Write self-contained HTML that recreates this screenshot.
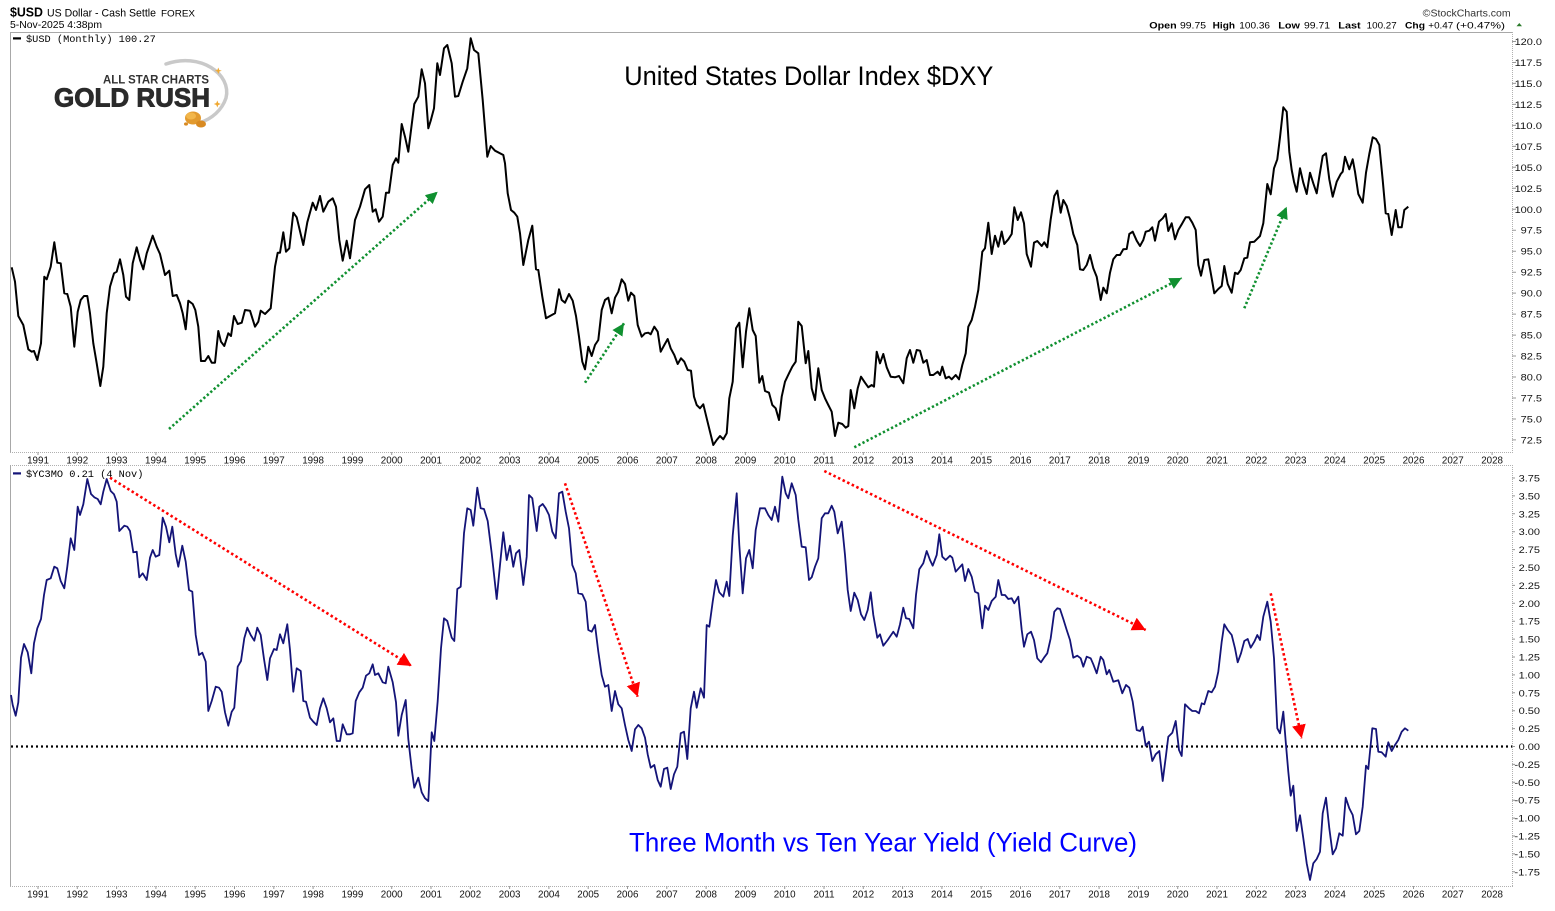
<!DOCTYPE html>
<html>
<head>
<meta charset="utf-8">
<style>
html,body{margin:0;padding:0;background:#fff;}
svg{display:block;}
text{font-family:"Liberation Sans",Arial,sans-serif;}
.mono{font-family:"Liberation Mono","DejaVu Sans Mono",monospace;}
.ax{font-size:9.5px;fill:#111;}
.yr{font-size:9.8px;fill:#111;}
</style>
</head>
<body>
<svg width="1555" height="911" viewBox="0 0 1555 911" xmlns="http://www.w3.org/2000/svg">
<defs>
<marker id="ag" markerUnits="userSpaceOnUse" markerWidth="14" markerHeight="14" refX="12" refY="6" orient="auto">
<path d="M0,0 L12,6 L0,12 z" fill="#109030"/>
</marker>
<marker id="ar" markerUnits="userSpaceOnUse" markerWidth="16" markerHeight="16" refX="13.5" refY="7" orient="auto">
<path d="M0,0 L13.5,7 L0,14 z" fill="#ff0000"/>
</marker>
</defs>
<rect x="0" y="0" width="1555" height="911" fill="#fff"/>

<!-- Header -->
<text x="10" y="16.7" font-size="13" font-weight="bold" textLength="33" lengthAdjust="spacingAndGlyphs" fill="#000">$USD</text>
<text x="47" y="16.5" font-size="10.7" textLength="109" lengthAdjust="spacingAndGlyphs" fill="#000">US Dollar - Cash Settle</text>
<text x="161" y="16.5" font-size="9.5" textLength="34" lengthAdjust="spacingAndGlyphs" fill="#000">FOREX</text>
<text x="10" y="28" font-size="10.5" textLength="92" lengthAdjust="spacingAndGlyphs" fill="#000">5-Nov-2025 4:38pm</text>
<text x="1422.7" y="16.5" font-size="10" textLength="88" lengthAdjust="spacingAndGlyphs" fill="#333">©StockCharts.com</text>

<g font-size="9.5" fill="#000">
<text x="1149.3" y="28.3" font-weight="bold" textLength="27.4" lengthAdjust="spacingAndGlyphs">Open</text>
<text x="1180" y="28.3" textLength="26" lengthAdjust="spacingAndGlyphs">99.75</text>
<text x="1212.7" y="28.3" font-weight="bold" textLength="22.3" lengthAdjust="spacingAndGlyphs">High</text>
<text x="1239.3" y="28.3" textLength="30.7" lengthAdjust="spacingAndGlyphs">100.36</text>
<text x="1278.3" y="28.3" font-weight="bold" textLength="21.7" lengthAdjust="spacingAndGlyphs">Low</text>
<text x="1304" y="28.3" textLength="26" lengthAdjust="spacingAndGlyphs">99.71</text>
<text x="1338.3" y="28.3" font-weight="bold" textLength="22.4" lengthAdjust="spacingAndGlyphs">Last</text>
<text x="1366.7" y="28.3" textLength="30" lengthAdjust="spacingAndGlyphs">100.27</text>
<text x="1405" y="28.3" font-weight="bold" textLength="20" lengthAdjust="spacingAndGlyphs">Chg</text>
<text x="1428.3" y="28.3" textLength="25" lengthAdjust="spacingAndGlyphs">+0.47</text>
<text x="1456" y="28.3" textLength="49" lengthAdjust="spacingAndGlyphs">(+0.47%)</text>
</g>
<path d="M1516.5,26.3 L1519.3,23 L1522,26.3 z" fill="#2a7a2a"/>

<!-- Top panel frame -->
<line x1="10" y1="32.5" x2="1512.5" y2="32.5" stroke="#a8a8a8" stroke-width="1"/>
<line x1="10.5" y1="32" x2="10.5" y2="452" stroke="#a8a8a8" stroke-width="1"/>
<line x1="1512.5" y1="32" x2="1512.5" y2="452" stroke="#b0b0b0" stroke-width="1" stroke-dasharray="1 1"/>
<line x1="10" y1="452.5" x2="1513" y2="452.5" stroke="#b0b0b0" stroke-width="1" stroke-dasharray="1 1"/>

<!-- Bottom panel frame -->
<line x1="10" y1="465.5" x2="1513" y2="465.5" stroke="#b0b0b0" stroke-width="1" stroke-dasharray="1 1"/>
<line x1="10.5" y1="465" x2="10.5" y2="887" stroke="#a8a8a8" stroke-width="1"/>
<line x1="1512.5" y1="465" x2="1512.5" y2="887" stroke="#b0b0b0" stroke-width="1" stroke-dasharray="1 1"/>
<line x1="10" y1="886.5" x2="1513" y2="886.5" stroke="#b0b0b0" stroke-width="1" stroke-dasharray="1 1"/>

<!-- year ticks -->
<g stroke="#999" stroke-width="1">
<path d="M38,452 v3 M77.3,452 v3 M116.6,452 v3 M155.9,452 v3 M195.2,452 v3 M234.5,452 v3 M273.8,452 v3 M313.1,452 v3 M352.4,452 v3 M391.7,452 v3 M431,452 v3 M470.3,452 v3 M509.6,452 v3 M548.9,452 v3 M588.2,452 v3 M627.5,452 v3 M666.8,452 v3 M706.1,452 v3 M745.4,452 v3 M784.7,452 v3 M824,452 v3 M863.3,452 v3 M902.6,452 v3 M941.9,452 v3 M981.2,452 v3 M1020.5,452 v3 M1059.8,452 v3 M1099.1,452 v3 M1138.4,452 v3 M1177.7,452 v3 M1217,452 v3 M1256.3,452 v3 M1295.6,452 v3 M1334.9,452 v3 M1374.2,452 v3 M1413.5,452 v3 M1452.8,452 v3 M1492.1,452 v3"/>
<path d="M38,886 v3 M77.3,886 v3 M116.6,886 v3 M155.9,886 v3 M195.2,886 v3 M234.5,886 v3 M273.8,886 v3 M313.1,886 v3 M352.4,886 v3 M391.7,886 v3 M431,886 v3 M470.3,886 v3 M509.6,886 v3 M548.9,886 v3 M588.2,886 v3 M627.5,886 v3 M666.8,886 v3 M706.1,886 v3 M745.4,886 v3 M784.7,886 v3 M824,886 v3 M863.3,886 v3 M902.6,886 v3 M941.9,886 v3 M981.2,886 v3 M1020.5,886 v3 M1059.8,886 v3 M1099.1,886 v3 M1138.4,886 v3 M1177.7,886 v3 M1217,886 v3 M1256.3,886 v3 M1295.6,886 v3 M1334.9,886 v3 M1374.2,886 v3 M1413.5,886 v3 M1452.8,886 v3 M1492.1,886 v3"/>
</g>

<!-- right axis ticks -->
<g stroke="#999" stroke-width="1">
<path d="M1512,41.5h4 M1512,62.5h4 M1512,83.4h4 M1512,104.4h4 M1512,125.4h4 M1512,146.4h4 M1512,167.3h4 M1512,188.3h4 M1512,209.3h4 M1512,230.2h4 M1512,251.2h4 M1512,272.2h4 M1512,293.1h4 M1512,314.1h4 M1512,335.1h4 M1512,356h4 M1512,377h4 M1512,398h4 M1512,419h4 M1512,439.9h4"/>
<path d="M1512,478h3 M1512,495.9h3 M1512,513.8h3 M1512,531.7h3 M1512,549.6h3 M1512,567.5h3 M1512,585.4h3 M1512,603.3h3 M1512,621.2h3 M1512,639.1h3 M1512,657h3 M1512,674.9h3 M1512,692.8h3 M1512,710.7h3 M1512,728.6h3 M1512,746.5h3 M1512,764.4h3 M1512,782.3h3 M1512,800.2h3 M1512,818.1h3 M1512,836h3 M1512,853.9h3 M1512,871.8h3"/>
</g>

<!-- Top right axis labels -->
<g class="ax" text-anchor="end">
<text x="1542" y="45" textLength="27.4" lengthAdjust="spacingAndGlyphs">120.0</text>
<text x="1542" y="66" textLength="27.4" lengthAdjust="spacingAndGlyphs">117.5</text>
<text x="1542" y="86.9" textLength="27.4" lengthAdjust="spacingAndGlyphs">115.0</text>
<text x="1542" y="107.9" textLength="27.4" lengthAdjust="spacingAndGlyphs">112.5</text>
<text x="1542" y="128.9" textLength="27.4" lengthAdjust="spacingAndGlyphs">110.0</text>
<text x="1542" y="149.9" textLength="27.4" lengthAdjust="spacingAndGlyphs">107.5</text>
<text x="1542" y="170.8" textLength="27.4" lengthAdjust="spacingAndGlyphs">105.0</text>
<text x="1542" y="191.8" textLength="27.4" lengthAdjust="spacingAndGlyphs">102.5</text>
<text x="1542" y="212.8" textLength="27.4" lengthAdjust="spacingAndGlyphs">100.0</text>
<text x="1542" y="233.7" textLength="21.4" lengthAdjust="spacingAndGlyphs">97.5</text>
<text x="1542" y="254.7" textLength="21.4" lengthAdjust="spacingAndGlyphs">95.0</text>
<text x="1542" y="275.7" textLength="21.4" lengthAdjust="spacingAndGlyphs">92.5</text>
<text x="1542" y="296.6" textLength="21.4" lengthAdjust="spacingAndGlyphs">90.0</text>
<text x="1542" y="317.6" textLength="21.4" lengthAdjust="spacingAndGlyphs">87.5</text>
<text x="1542" y="338.6" textLength="21.4" lengthAdjust="spacingAndGlyphs">85.0</text>
<text x="1542" y="359.5" textLength="21.4" lengthAdjust="spacingAndGlyphs">82.5</text>
<text x="1542" y="380.5" textLength="21.4" lengthAdjust="spacingAndGlyphs">80.0</text>
<text x="1542" y="401.5" textLength="21.4" lengthAdjust="spacingAndGlyphs">77.5</text>
<text x="1542" y="422.5" textLength="21.4" lengthAdjust="spacingAndGlyphs">75.0</text>
<text x="1542" y="443.4" textLength="21.4" lengthAdjust="spacingAndGlyphs">72.5</text>
</g>

<!-- Bottom right axis labels -->
<g class="ax" text-anchor="end">
<text x="1540" y="481.5" textLength="21.4" lengthAdjust="spacingAndGlyphs">3.75</text>
<text x="1540" y="499.4" textLength="21.4" lengthAdjust="spacingAndGlyphs">3.50</text>
<text x="1540" y="517.3" textLength="21.4" lengthAdjust="spacingAndGlyphs">3.25</text>
<text x="1540" y="535.2" textLength="21.4" lengthAdjust="spacingAndGlyphs">3.00</text>
<text x="1540" y="553.1" textLength="21.4" lengthAdjust="spacingAndGlyphs">2.75</text>
<text x="1540" y="571" textLength="21.4" lengthAdjust="spacingAndGlyphs">2.50</text>
<text x="1540" y="588.9" textLength="21.4" lengthAdjust="spacingAndGlyphs">2.25</text>
<text x="1540" y="606.8" textLength="21.4" lengthAdjust="spacingAndGlyphs">2.00</text>
<text x="1540" y="624.7" textLength="21.4" lengthAdjust="spacingAndGlyphs">1.75</text>
<text x="1540" y="642.6" textLength="21.4" lengthAdjust="spacingAndGlyphs">1.50</text>
<text x="1540" y="660.5" textLength="21.4" lengthAdjust="spacingAndGlyphs">1.25</text>
<text x="1540" y="678.4" textLength="21.4" lengthAdjust="spacingAndGlyphs">1.00</text>
<text x="1540" y="696.3" textLength="21.4" lengthAdjust="spacingAndGlyphs">0.75</text>
<text x="1540" y="714.2" textLength="21.4" lengthAdjust="spacingAndGlyphs">0.50</text>
<text x="1540" y="732.1" textLength="21.4" lengthAdjust="spacingAndGlyphs">0.25</text>
<text x="1540" y="750" textLength="21.4" lengthAdjust="spacingAndGlyphs">0.00</text>
<text x="1540" y="767.9" textLength="25.6" lengthAdjust="spacingAndGlyphs">-0.25</text>
<text x="1540" y="785.8" textLength="25.6" lengthAdjust="spacingAndGlyphs">-0.50</text>
<text x="1540" y="803.7" textLength="25.6" lengthAdjust="spacingAndGlyphs">-0.75</text>
<text x="1540" y="821.6" textLength="25.6" lengthAdjust="spacingAndGlyphs">-1.00</text>
<text x="1540" y="839.5" textLength="25.6" lengthAdjust="spacingAndGlyphs">-1.25</text>
<text x="1540" y="857.4" textLength="25.6" lengthAdjust="spacingAndGlyphs">-1.50</text>
<text x="1540" y="875.3" textLength="25.6" lengthAdjust="spacingAndGlyphs">-1.75</text>
</g>

<!-- Year labels top -->
<g class="yr" text-anchor="middle">
<text x="38" y="463.3">1991</text><text x="77.3" y="463.3">1992</text><text x="116.6" y="463.3">1993</text><text x="155.9" y="463.3">1994</text><text x="195.2" y="463.3">1995</text><text x="234.5" y="463.3">1996</text><text x="273.8" y="463.3">1997</text><text x="313.1" y="463.3">1998</text><text x="352.4" y="463.3">1999</text><text x="391.7" y="463.3">2000</text><text x="431" y="463.3">2001</text><text x="470.3" y="463.3">2002</text><text x="509.6" y="463.3">2003</text><text x="548.9" y="463.3">2004</text><text x="588.2" y="463.3">2005</text><text x="627.5" y="463.3">2006</text><text x="666.8" y="463.3">2007</text><text x="706.1" y="463.3">2008</text><text x="745.4" y="463.3">2009</text><text x="784.7" y="463.3">2010</text><text x="824" y="463.3">2011</text><text x="863.3" y="463.3">2012</text><text x="902.6" y="463.3">2013</text><text x="941.9" y="463.3">2014</text><text x="981.2" y="463.3">2015</text><text x="1020.5" y="463.3">2016</text><text x="1059.8" y="463.3">2017</text><text x="1099.1" y="463.3">2018</text><text x="1138.4" y="463.3">2019</text><text x="1177.7" y="463.3">2020</text><text x="1217" y="463.3">2021</text><text x="1256.3" y="463.3">2022</text><text x="1295.6" y="463.3">2023</text><text x="1334.9" y="463.3">2024</text><text x="1374.2" y="463.3">2025</text><text x="1413.5" y="463.3">2026</text><text x="1452.8" y="463.3">2027</text><text x="1492.1" y="463.3">2028</text>
</g>
<!-- Year labels bottom -->
<g class="yr" text-anchor="middle">
<text x="38" y="897.6">1991</text><text x="77.3" y="897.6">1992</text><text x="116.6" y="897.6">1993</text><text x="155.9" y="897.6">1994</text><text x="195.2" y="897.6">1995</text><text x="234.5" y="897.6">1996</text><text x="273.8" y="897.6">1997</text><text x="313.1" y="897.6">1998</text><text x="352.4" y="897.6">1999</text><text x="391.7" y="897.6">2000</text><text x="431" y="897.6">2001</text><text x="470.3" y="897.6">2002</text><text x="509.6" y="897.6">2003</text><text x="548.9" y="897.6">2004</text><text x="588.2" y="897.6">2005</text><text x="627.5" y="897.6">2006</text><text x="666.8" y="897.6">2007</text><text x="706.1" y="897.6">2008</text><text x="745.4" y="897.6">2009</text><text x="784.7" y="897.6">2010</text><text x="824" y="897.6">2011</text><text x="863.3" y="897.6">2012</text><text x="902.6" y="897.6">2013</text><text x="941.9" y="897.6">2014</text><text x="981.2" y="897.6">2015</text><text x="1020.5" y="897.6">2016</text><text x="1059.8" y="897.6">2017</text><text x="1099.1" y="897.6">2018</text><text x="1138.4" y="897.6">2019</text><text x="1177.7" y="897.6">2020</text><text x="1217" y="897.6">2021</text><text x="1256.3" y="897.6">2022</text><text x="1295.6" y="897.6">2023</text><text x="1334.9" y="897.6">2024</text><text x="1374.2" y="897.6">2025</text><text x="1413.5" y="897.6">2026</text><text x="1452.8" y="897.6">2027</text><text x="1492.1" y="897.6">2028</text>
</g>

<!-- Legends -->
<rect x="13" y="37.3" width="8" height="2.2" fill="#000"/>
<text class="mono" x="26" y="42" font-size="10.3" fill="#000">$USD (Monthly) 100.27</text>
<rect x="13" y="472.3" width="8" height="2.2" fill="#141478"/>
<text class="mono" x="26" y="477" font-size="10.3" fill="#000">$YC3MO 0.21 (4 Nov)</text>

<!-- Logo -->
<path d="M166,64 C200,52 232,74 226,98 C222,110 212,119 199,123" fill="none" stroke="#c9c9c9" stroke-width="3.5" stroke-linecap="round"/>
<text x="103" y="83.5" font-size="11.5" font-weight="bold" fill="#333" textLength="106" lengthAdjust="spacingAndGlyphs">ALL STAR CHARTS</text>
<text x="54" y="106.7" font-size="26" font-weight="bold" fill="#2a2a2a" stroke="#2a2a2a" stroke-width="0.9" textLength="156" lengthAdjust="spacingAndGlyphs">GOLD RUSH</text>
<path d="M218.3,67.5 L219.3,70 L221.8,70.7 L219.3,71.5 L218.3,74 L217.3,71.5 L214.8,70.7 L217.3,70 z" fill="#f0a830"/>
<path d="M217.3,100.5 L218.3,103 L220.8,104 L218.3,105 L217.3,107.5 L216.3,105 L213.8,104 L216.3,103 z" fill="#f0a830"/>
<ellipse cx="193" cy="118" rx="8" ry="6.5" fill="#e29a2e"/>
<ellipse cx="191" cy="116" rx="5" ry="3.5" fill="#f2b64a"/>
<ellipse cx="201" cy="124" rx="5" ry="3.5" fill="#d88a22"/>
<ellipse cx="186" cy="124" rx="2" ry="1.6" fill="#d88a22"/>

<!-- Titles -->
<text x="624.3" y="85" font-size="27" fill="#000" textLength="369" lengthAdjust="spacingAndGlyphs">United States Dollar Index $DXY</text>
<text x="629" y="851.7" font-size="27" fill="#0000ff" textLength="508" lengthAdjust="spacingAndGlyphs">Three Month vs Ten Year Yield (Yield Curve)</text>

<!-- Zero line -->
<line x1="11" y1="746.5" x2="1512" y2="746.5" stroke="#000" stroke-width="2.2" stroke-dasharray="2 3"/>

<!-- DXY series -->
<polyline fill="none" stroke="#000" stroke-width="2" stroke-linejoin="round" points="11.7,267.3 15,281.7 18.3,316 23.3,325 28.3,349.3 31.7,351.7 34,351 37.3,360 41,343.3 44.3,276.7 46.7,279.3 50.7,266.7 54.3,242.3 57.3,262.7 60.7,263.3 64.3,293.3 67.3,294 70.7,306.7 74.3,346.7 77.7,311.7 80.7,300 84,296 87.3,296 90,313.3 93.3,343.3 96.7,363.3 100.3,386 103.3,366.7 106.7,313.3 110,286.7 114,273.3 116.7,271.7 120,259.3 123.3,275 126,296.7 129.3,300 132.7,263.3 136.7,247.3 140,260 143.3,269.3 146.7,253.3 152.7,235.7 156.7,246.7 160,254 165,275 169.3,270.7 172.7,296 176.7,295 180,303.3 182.7,313.3 185.7,329.3 188.3,300.7 192.7,304 195.3,310 198.3,326.7 201,361 205,361 208.3,356 211.7,362.7 215,362.7 218.3,331 221,341.7 224.3,346 228.3,333.3 231,336 234,316 237.7,324 241.7,322.7 245,310 250,310.7 255,326.7 258.3,321.7 260.7,310.7 265,314 270.7,308.3 275,266.7 277.7,252.7 280,252.7 283.3,232.3 286,251.7 289.3,248.3 293.3,212.7 296.7,217.3 303.3,245 307.3,222.3 312.7,202.7 316,210 320,196 323.3,211.7 328.3,201.7 332.7,198.3 336,206.7 339.3,240 342.7,260.7 346.7,240.7 350,258.3 355,220 360,206.7 365,189.3 369.3,185 372.7,211.7 375.7,209.3 379,221.7 382.7,216.7 386,192.7 389,192.7 392.7,165 396,158.3 398.3,162.7 401.7,124 405,136.7 408.3,151.7 414.3,104 418.3,96.7 421.7,69.3 425,83.3 428.3,128.3 430.7,120.7 434,108.3 437.3,63.3 440,75 444,48.3 447.3,45 451.7,63.3 455,96.7 458.3,96 462.7,81.7 467.3,68.3 470.7,38.3 474,50 478.3,53.3 482.7,100 487.3,156.7 490.7,146 495,150.7 503.3,155 505,163.3 507.7,193.3 511,210 514.3,212.7 517.3,216.7 520,233.3 523.3,265 528.3,240 532.3,225.7 536,269.3 538.3,270 542.3,296.7 546,318.3 550,316 555,313.3 559,289.3 561.7,300 565,302.7 569,294 572.7,300.7 576,316 579,336.7 582.3,361.7 585,369.3 588.3,346.7 591.7,356 595,345 598.3,340 601.7,310 605,300 608.3,297.7 611.7,313.3 615,297.7 618.3,291.7 621.7,279.3 625,284 628.3,300.7 631,292.7 634.3,296 637.7,325 641.7,336.7 645,333.3 648.3,332.7 650.7,334.3 654.3,326.7 657.7,331.7 660.7,351.7 664.3,345 667.7,339 670.7,348.3 674.3,355 677.7,364 681,358.3 684.3,361.7 687.7,370 691,370.7 694,396.7 696.7,405 700,408.3 703.3,404.3 706.7,418.3 710,431.7 713.3,445 716.7,440 720,436 723.3,439.3 726.7,433.3 729.3,398.3 732.7,381.7 736,328.3 739.3,322.7 742.7,367.3 746,331.7 749.3,308.3 752.7,330 755.7,336 759.3,382.7 762.3,376 765,391 769,392.7 772.3,405 775.7,408.3 779,420 781.7,396.7 785,381.7 789,373.3 792.3,366.7 795.7,361.7 798.3,321.7 801.7,326 805.7,363.3 808.3,351 811.7,388.3 815,400 818.3,368.3 821.7,390 825,398.3 828.3,405 831.7,411.7 835,436 838.3,422.7 842.3,424 845.7,427.7 848.3,426 850.7,390 854.3,408.3 857.7,388.3 861,376.7 865,382.7 868.3,387.3 871.7,385 874,386.7 876.7,351.7 880,363.3 883.3,354 886.7,367.3 890.7,376.7 895,377.3 899,376 903.3,383.3 906.7,358.3 910,350 913.3,362.7 916.7,350 920,350.7 923.3,362.7 926.7,360 930,375 933.3,375 937.7,371.7 940,375 942.3,366.7 945.7,378.3 949,376.7 951.7,379.3 955.7,375 959,379.3 962.3,365 965.7,353.3 968.3,326.7 971.7,320 975,306.7 978.3,290 982.3,251.7 985,248.3 988.3,222.7 991.7,254 995,235.7 998.3,246.7 1001.7,231.5 1004.3,244 1008.3,239.3 1011.7,234 1014.3,207.3 1017.7,220 1021,212.3 1024,223.3 1026.7,254 1031,266.7 1034,242.7 1037.3,241 1041.7,246 1044.3,242.3 1047.3,247.3 1050.7,219.3 1054.3,196 1057.3,190.7 1060.7,212.7 1063.3,200 1066.7,206 1070,218.3 1073.3,234 1077.3,245 1080,269.3 1083.3,270 1086.7,265 1090,255 1093.3,268.3 1096.7,276.7 1100.7,300 1103.3,287.7 1106.7,293.3 1110,272.7 1113.3,259.3 1116.7,255 1120,255 1123.3,249.3 1126.7,249 1129.3,234 1132.7,231.7 1136.7,240.7 1140,246 1143.3,240 1145.7,231.7 1149.3,230.7 1152.3,227.3 1155,240.7 1159,221.7 1162.7,218.3 1165.7,214 1168.3,231 1171.7,223.3 1175,239.3 1178.3,230 1182.3,223.3 1185.7,217.3 1189,217.3 1192.3,222.7 1195.7,230 1198.3,265 1201,275.7 1204.3,260 1208.3,259.3 1211.7,278.3 1214.3,293.3 1218.3,289 1221.7,286 1224.3,266 1227.7,284 1231.7,292.7 1235,272.7 1237.7,274 1240.7,270 1244.3,258.3 1247.3,257.7 1250,242.3 1254.3,241.7 1256.7,239.3 1260,236 1263.3,223.3 1267.3,184 1270.7,194.3 1274,168.3 1277.3,159.3 1280,137.3 1283.3,107.3 1286.7,111.7 1289.3,151.7 1291.7,170 1294,181.7 1296.7,191.7 1300,168.3 1303.3,182.7 1306.7,194 1310,172.7 1313.3,183.3 1316.7,193.3 1319.3,176.7 1322.7,156 1326,153.3 1329.3,179.3 1332.7,196.7 1336.7,181.7 1340.7,174 1342.7,171.7 1345,156.7 1349.3,169.3 1352.7,159.3 1355,171.7 1358.3,194 1362.7,202.7 1366,172.7 1369.3,154 1372.7,137.3 1376,139 1379.3,145 1382.7,180 1385.7,213.3 1388.3,214 1391.7,235 1395.7,210 1398.3,227.3 1401.7,227.3 1404.3,210 1408.3,206.7"/>

<!-- Yield curve series -->
<polyline fill="none" stroke="#141478" stroke-width="1.8" stroke-linejoin="round" points="11,695 12.7,705 15.7,715.7 18.3,702.3 21,657.7 24,644 27.7,652.3 31.3,673.3 34,643.3 37.3,628.3 41,619 44,595 46.7,580 50.7,578.3 54.3,566.7 57.3,568.3 60.7,581 64.3,588.3 67.3,566.7 70.7,538.3 74.3,550 77.7,506.7 80,515 83.3,504.3 87.3,479 91,494 94.3,497.3 97.7,499 100.7,504.3 103.3,491.7 106.7,479 110.7,491 114,494.3 116.7,501.7 119.3,531 124.3,525.7 127.3,526.7 130,531 133.3,552.3 136.7,551.7 139.3,577.3 142.7,573.3 146.7,580 150,557.7 152.7,550 155.7,556.7 159.3,555 162.7,517.7 166,526.7 169.3,542.3 172.3,526.7 175.7,554.3 178.3,566.7 182.3,545.7 185.7,561.7 189,590 192.3,591.7 195.7,635 199,655 202.3,652.7 205.7,661.7 208.3,711 211.7,701 215.7,686.7 219,687.7 221.7,691.7 225,712.3 228.3,725.7 231.7,711.7 234.3,707.7 237.7,666.7 241,661 244.3,638.3 247.3,627.7 250.7,635 254.3,640.7 257.3,627.7 260.7,635 264,659 267.3,680 270,658.3 274,649 276.7,650 280,634.3 283.3,643.3 287.3,624.3 290,650 293.3,691.7 296.7,668.3 300.7,671 303.3,701 306,701.7 310,717.7 313.3,721.7 316.7,725 320,708.3 323.3,698.3 326.7,708.3 330,722.3 333.3,718.3 336.7,741 340,741 342.7,724.3 346.7,734.3 350,734.3 352.7,733.3 355.7,701 359.3,692.3 362.7,687.7 366,675.7 369.3,673.3 372.7,664.3 375,675 378.3,673.3 382.7,682.3 385.7,683.3 388.3,666.7 392.7,682.3 396,702.3 398.3,735.7 401.7,715 405.7,700 408.3,739 411.7,769 414.3,787.7 418.3,777.7 421.7,792.3 425,798.3 428.3,801 431.7,732.3 434.3,741 437.7,701 441,648.3 444,618.3 447.3,621 451.7,637.7 454.3,641 457.3,589 460.7,586.7 464,533.3 467.3,508.3 470.7,510 473.3,525.7 477.3,487.7 480.7,508.3 484,509 487.7,521 491.7,553.3 496.7,599 500,565 503.3,532.3 506.7,560 510,545.7 513.3,566.7 516,553.3 519.3,550 523.3,585 526.7,556.7 529,495 532.3,498.3 536.7,531 539.3,506.7 542.7,504 545.7,508.3 549,515 552.3,531.7 555.7,538.3 559,493.3 562.3,491.7 565.7,511.7 569,528.3 572.3,565 575.7,573.3 578.3,593.3 582.3,594.3 585.7,601.7 588.3,630 591.7,631.7 595,625 598.3,651.7 601.7,675 605,686.7 608.3,685 611.7,711 615,691 618.3,704.3 621.7,708.3 625,725 628.3,740 631.7,751 635,729.3 638.3,725 641.7,728.3 645,737.7 647.7,754.3 650.7,767.7 654.3,765 657.7,780 660.7,786.7 664,769 667.3,767.7 670.7,789 674,774.3 677.3,766.7 680.7,733.3 684,731.7 687.3,759 690.7,708.3 694,691.7 696.7,707.7 700.7,688.3 704,697.7 706.7,625 709.3,626.7 712.7,601.7 716,580 719.3,592.3 723.3,596.7 726.7,581.7 729.3,596 732.7,535.7 736.7,493.3 739.3,545 742.7,593.3 746,558.3 749.3,550 752.7,568.3 755.7,530 760,508.3 765,508.3 768.3,515 771.7,520 775,506.7 778.3,521.7 782.3,476.7 785.7,493.3 788.3,498.3 791.7,483.3 795.7,495 798.3,520 801.7,546.7 805.7,547.3 809,580 811.7,577.3 815,566.7 818.3,558.3 821.7,518.3 825,513.3 828.3,513.3 831.7,505.7 834.3,511.7 837.7,533.3 841.7,521.7 845,555 847.7,590 850.7,611 854.3,592.7 857.7,600 861,614.3 864.3,620 867.7,610 870.7,592.3 873.3,615 877.3,637.7 880,634.3 883.3,645.7 887.7,640 893.3,631.7 896.7,636.7 900,624.3 903.3,607.7 906,618.3 909.3,619 913.3,628.3 916,595 919.3,569.3 923.3,563.3 926.7,551 930,560 932.7,565.7 936.7,555 939.3,534.3 942.3,556.7 945.7,560 950,555.7 952.3,557.7 955.7,571.7 962.3,564.3 965,581 968.3,569 971.7,576.7 975,591.7 978.3,593.3 982.3,628.3 985,605.7 988.3,610 991.7,601 995.7,596.7 998.3,580 1001.7,595 1005,595 1008.3,599 1011.7,598.3 1014.3,603.3 1018.3,596.7 1021.7,630 1024,646.7 1027.3,634.3 1031,631.7 1034,640 1037.3,658.3 1041,662.3 1044,657.7 1047.3,653.3 1050.7,638.3 1054.3,611.7 1057.3,608.3 1060,609 1063.3,619 1066.7,630 1070,640 1073.3,657.7 1077.3,655.7 1080.7,658.3 1083.3,666.7 1086.7,656.7 1090.7,658.3 1093.3,664.3 1096.7,673.3 1100.7,656.7 1103.3,660 1106.7,674.3 1109.3,670 1113.3,681.7 1118.3,680.3 1122.3,693.3 1126,685 1129.3,687.7 1132.7,701.7 1136.7,730 1140,731 1142.7,726.7 1145.7,745.7 1149,741.7 1152.3,761 1155.7,754.3 1159.3,751 1162.7,781 1165.7,757.7 1168.3,736.7 1172.3,732.7 1175.7,721 1179,750 1181.7,756 1185,704.3 1189,708.3 1192.3,711 1195.7,711 1199,713.3 1201.7,703.3 1204.3,704.3 1208.3,691 1211.7,692.3 1215,686.7 1218.3,671.7 1221.7,641.7 1224.3,624.3 1227.7,630 1231.7,635 1235,648.3 1237.7,662.3 1241,653.3 1244.3,641 1247.7,639 1250.7,647.7 1254.3,641.7 1257.3,635 1260,640 1263.3,616.7 1267.3,601.7 1270.7,621.7 1274,658.3 1277.3,728.3 1280,733.3 1283.3,711.7 1286,745 1288.3,771.7 1290.7,795.7 1293.3,785.7 1296.7,831 1300,815.3 1303.3,838.3 1306.7,863.3 1310,880 1313.3,863.3 1316.7,859 1320,851.7 1322.7,813.3 1326,797.7 1329.3,828.3 1332.7,854.3 1336,848.3 1339.3,833.3 1342.7,835.7 1345.7,797.7 1349.3,808.3 1352.7,815 1356,834.3 1359.3,831 1362.7,806.7 1366,765.7 1368.3,769 1372.3,728.3 1376,729 1378.3,751.7 1381.7,752.3 1385.7,756.7 1388.3,742.3 1391.7,751 1395,745 1398.3,740 1401.7,731.7 1405,728.3 1408.3,730.7"/>

<!-- Green dotted arrows -->
<g fill="none" stroke="#109030" stroke-width="2.6" stroke-dasharray="2.3 2.3">
<line x1="169" y1="429" x2="437.7" y2="191.7" marker-end="url(#ag)"/>
<line x1="585" y1="382.7" x2="624" y2="323.3" marker-end="url(#ag)"/>
<line x1="854.3" y1="447.3" x2="1181.7" y2="278" marker-end="url(#ag)"/>
<line x1="1244.3" y1="308.3" x2="1286.7" y2="206.7" marker-end="url(#ag)"/>
</g>

<!-- Red dotted arrows -->
<g fill="none" stroke="#ff0000" stroke-width="2.6" stroke-dasharray="2.5 2.6">
<line x1="110" y1="477.7" x2="411.7" y2="666" marker-end="url(#ar)"/>
<line x1="565" y1="483.3" x2="637.7" y2="696.7" marker-end="url(#ar)"/>
<line x1="824.3" y1="471" x2="1145.7" y2="630" marker-end="url(#ar)"/>
<line x1="1270.7" y1="593.3" x2="1301.7" y2="738.3" marker-end="url(#ar)"/>
</g>
</svg>
</body>
</html>
